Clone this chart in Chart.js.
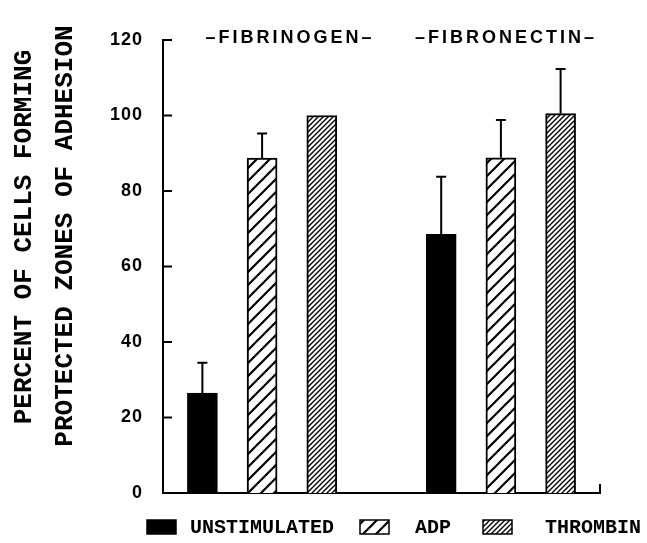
<!DOCTYPE html>
<html>
<head>
<meta charset="utf-8">
<script src="https://cdn.jsdelivr.net/npm/chart.js@4.4.1/dist/chart.umd.min.js"></script>
<style>
  body { margin: 0; background: #fff; }
  canvas { display: block; }
</style>
</head>
<body>
<canvas id="myChart" width="647" height="543"></canvas>
<script>
const groups = ['–FIBRINOGEN–', '–FIBRONECTIN–'];
const treatments = ['UNSTIMULATED', 'ADP', 'THROMBIN'];
const unstimulated = [26.5, 68.5];
const adp = [88.7, 88.8];
const thrombin = [100, 100.5];
const unstimulated_err = [8, 15.3];
const adp_err = [6.5, 10];
const thrombin_err = [0, 11.8];
const y_ticks = [0, 20, 40, 60, 80, 100, 120];
const y_title = ['PERCENT OF CELLS FORMING', 'PROTECTED ZONES OF ADHESION'];

const makeHatch = (size, width) => {
  const c = document.createElement('canvas');
  c.width = size;
  c.height = size;
  const g = c.getContext('2d');
  g.fillStyle = '#fff';
  g.fillRect(0, 0, size, size);
  g.strokeStyle = '#000';
  g.lineWidth = width;
  g.beginPath();
  g.moveTo(-1, size + 1);
  g.lineTo(size + 1, -1);
  g.moveTo(-size / 2 - 1, size / 2 + 1);
  g.lineTo(size / 2 + 1, -size / 2 - 1);
  g.moveTo(size / 2 - 1, size * 1.5 + 1);
  g.lineTo(size * 1.5 + 1, size / 2 - 1);
  g.stroke();
  return g.createPattern(c, 'repeat');
};

const series = [unstimulated, adp, thrombin];
const errors = [unstimulated_err, adp_err, thrombin_err];
const fills = ['#000', makeHatch(13, 2.2), makeHatch(5, 1.4)];

// slot of a bar: 3 bars per group, one empty slot between groups
const slotOf = (g, t) => g * 4 + t + 1;

const datasets = treatments.map((name, t) => ({
  label: name,
  data: series[t].map((v, g) => ({ x: slotOf(g, t), y: v })),
  backgroundColor: fills[t],
  borderColor: '#000',
  borderWidth: 2,
  barThickness: 30,
  grouped: false
}));

const extras = {
  id: 'extras',
  beforeDraw(chart) {
    chart.ctx.letterSpacing = '1px';
  },
  afterDatasetsDraw(chart) {
    const ctx = chart.ctx;
    const xs = chart.scales.x;
    const ys = chart.scales.y;
    const area = chart.chartArea;
    ctx.save();
    ctx.strokeStyle = '#000';
    ctx.lineWidth = 2;

    // inward ticks
    ctx.beginPath();
    y_ticks.forEach((v) => {
      const py = ys.getPixelForValue(v);
      ctx.moveTo(area.left, py);
      ctx.lineTo(area.left + 9, py);
    });
    ctx.moveTo(area.right, area.bottom);
    ctx.lineTo(area.right, area.bottom - 9);
    ctx.stroke();

    // upper error bars
    errors.forEach((errs, t) => {
      errs.forEach((e, g) => {
        if (!e) return;
        const px = xs.getPixelForValue(slotOf(g, t));
        const top = ys.getPixelForValue(series[t][g] + e);
        const base = ys.getPixelForValue(series[t][g]);
        ctx.beginPath();
        ctx.moveTo(px, base);
        ctx.lineTo(px, top);
        ctx.moveTo(px - 5, top);
        ctx.lineTo(px + 5, top);
        ctx.stroke();
      });
    });

    // group labels
    ctx.fillStyle = '#000';
    ctx.letterSpacing = '3px';
    ctx.font = 'bold 18px "Liberation Sans"';
    ctx.textAlign = 'center';
    ctx.textBaseline = 'middle';
    ctx.fillText(groups[0], 290, 38);
    ctx.fillText(groups[1], 506, 38);

    // y title
    ctx.letterSpacing = '0px';
    ctx.font = 'bold 26px "Liberation Mono"';
    ctx.save();
    ctx.translate(24, 237);
    ctx.rotate(-Math.PI / 2);
    ctx.fillText(y_title[0], 0, 0);
    ctx.restore();
    ctx.save();
    ctx.translate(65, 236);
    ctx.rotate(-Math.PI / 2);
    ctx.fillText(y_title[1], 0, 0);
    ctx.restore();

    // legend
    const boxes = [[147, 190], [360, 415], [483, 545]];
    ctx.font = 'bold 20px "Liberation Mono"';
    ctx.textAlign = 'left';
    treatments.forEach((name, t) => {
      const [bx, tx] = boxes[t];
      ctx.fillStyle = fills[t];
      ctx.fillRect(bx, 520, 29, 14);
      ctx.lineWidth = 1.5;
      ctx.strokeRect(bx, 520, 29, 14);
      ctx.fillStyle = '#000';
      ctx.fillText(name, tx, 528);
    });
    ctx.restore();
  }
};

const ctx = document.getElementById('myChart').getContext('2d');
const myChart = new Chart(ctx, {
  type: 'bar',
  data: { datasets: datasets },
  options: {
    responsive: false,
    animation: false,
    layout: { padding: { top: 40, right: 47, bottom: 50, left: 0 } },
    plugins: {
      legend: { display: false },
      tooltip: { enabled: false }
    },
    scales: {
      x: {
        type: 'linear',
        min: 0.34,
        max: 7.66,
        offset: false,
        grid: { display: false, offset: false },
        border: { display: true, color: '#000', width: 2 },
        ticks: { display: false },
        afterFit: (s) => { s.height = 0; }
      },
      y: {
        min: 0,
        max: 120,
        afterBuildTicks: (s) => { s.ticks = y_ticks.map((v) => ({ value: v })); },
        grid: { display: false },
        border: { display: true, color: '#000', width: 2 },
        ticks: {
          color: '#000',
          padding: 12,
          font: { family: 'Liberation Sans', size: 18, weight: 'bold' }
        },
        afterFit: (s) => { s.width = 163; }
      }
    }
  },
  plugins: [extras]
});
</script>
</body>
</html>
